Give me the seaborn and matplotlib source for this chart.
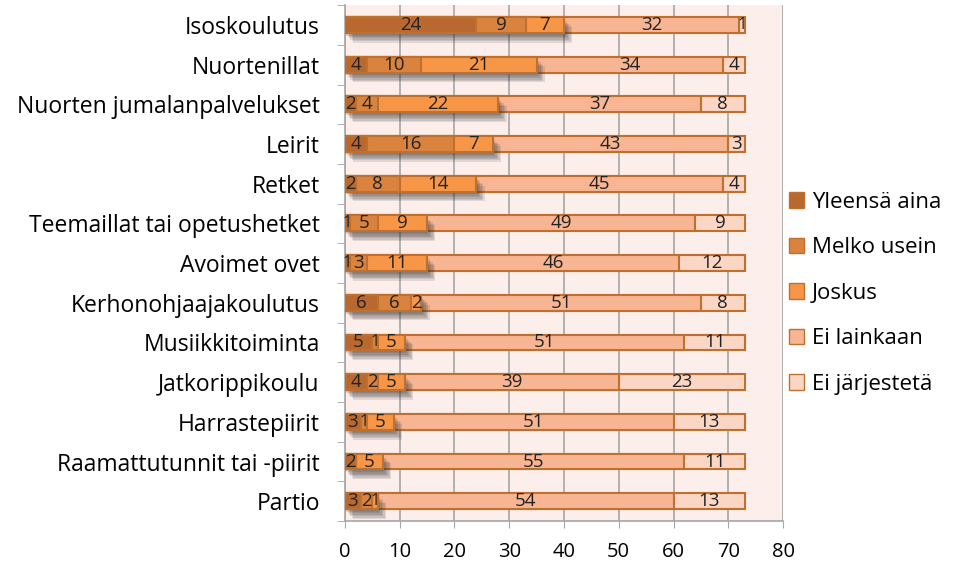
import numpy as np
import pandas as pd
import matplotlib
import matplotlib.pyplot as plt
import matplotlib.patheffects as pe
from matplotlib.patches import Patch
import seaborn as sns

matplotlib.use('Agg')

activities = ["Isoskoulutus", "Nuortenillat", "Nuorten jumalanpalvelukset", "Leirit", "Retket",
              "Teemaillat tai opetushetket", "Avoimet ovet", "Kerhonohjaajakoulutus",
              "Musiikkitoiminta", "Jatkorippikoulu", "Harrastepiirit",
              "Raamattutunnit tai -piirit", "Partio"]
series = ["Yleensä aina", "Melko usein", "Joskus", "Ei lainkaan", "Ei järjestetä"]
yleensa_aina = [24, 4, 2, 4, 2, 1, 1, 6, 5, 4, 3, 2, 3]
melko_usein = [9, 10, 4, 16, 8, 5, 3, 6, 1, 2, 1, 0, 2]
joskus = [7, 21, 22, 7, 14, 9, 11, 2, 5, 5, 5, 5, 1]
ei_lainkaan = [32, 34, 37, 43, 45, 49, 46, 51, 51, 39, 51, 55, 54]
ei_jarjesteta = [1, 4, 8, 3, 4, 9, 12, 8, 11, 23, 13, 11, 13]
colors = ["#B9692F", "#D9833F", "#F79646", "#F8B593", "#FBD6C5"]

values = np.array([yleensa_aina, melko_usein, joskus, ei_lainkaan, ei_jarjesteta])
cum = values.cumsum(axis=0)

plt.rcParams['font.family'] = ['Open Sans', 'DejaVu Sans']
fig = plt.figure(figsize=(9.55, 5.72), dpi=100)
ax = fig.add_axes([0.361, 0.089, 0.459, 0.902])
ax.set_facecolor("#FCEEEA")

edge = "#C0702E"
# soft drop shadow under the first three segments, built from a few faint layers
shadow = [pe.SimplePatchShadow(offset=(dx, dy), shadow_rgbFace="#333333", alpha=0.13)
          for dx, dy in [(1, -2), (2, -3), (3, -4), (4, -5), (5, -6), (6, -7)]] + [pe.Normal()]

# draw cumulative bars from longest to shortest so each segment shows
for k in range(len(series) - 1, -1, -1):
    df = pd.DataFrame({"activity": activities, "value": cum[k]})
    sns.barplot(data=df, x="value", y="activity", color=colors[k], orient="h",
                width=0.4, edgecolor=edge, linewidth=1.5, saturation=1, ax=ax, zorder=3)
    if k == 2:
        for p in ax.patches[-len(activities):]:
            p.set_path_effects(shadow)

# segment labels (very narrow segments get a slightly smaller font)
for k in range(len(series)):
    starts = cum[k] - values[k]
    for i, v in enumerate(values[k]):
        if v > 0:
            ax.text(starts[i] + v / 2, i, str(v), ha="center", va="center",
                    fontsize=13.5 if v > 1 else 12, color="#222222", zorder=5)

ax.set_xlim(0, 80)
ax.set_ylim(len(activities) - 0.5, -0.5)
ax.set_xticks(range(0, 81, 10))
ax.xaxis.grid(True, color="#A6A6A6", linewidth=1.2, zorder=0)
ax.set_axisbelow(True)
ax.set_xlabel("")
ax.set_ylabel("")
ax.tick_params(axis="x", length=5, color="#A6A6A6", labelsize=14.5, pad=10)
ax.tick_params(axis="y", which="major", length=0, labelsize=16.5, pad=18)
ax.set_yticks(np.arange(-0.5, len(activities)), minor=True)
ax.tick_params(axis="y", which="minor", length=6, color="#A6A6A6")
for s in ["top", "right"]:
    ax.spines[s].set_visible(False)
for s in ["left", "bottom"]:
    ax.spines[s].set_color("#A6A6A6")
    ax.spines[s].set_linewidth(1.2)

handles = [Patch(facecolor=c, edgecolor=edge, label=s) for c, s in zip(colors, series)]
fig.legend(handles=handles, loc="center left", bbox_to_anchor=(0.826, 0.487), frameon=False,
           borderpad=0, borderaxespad=0, fontsize=16, handlelength=0.7, handleheight=0.7,
           handletextpad=0.35, labelspacing=1.1)

plt.savefig("out.png", dpi=100)
